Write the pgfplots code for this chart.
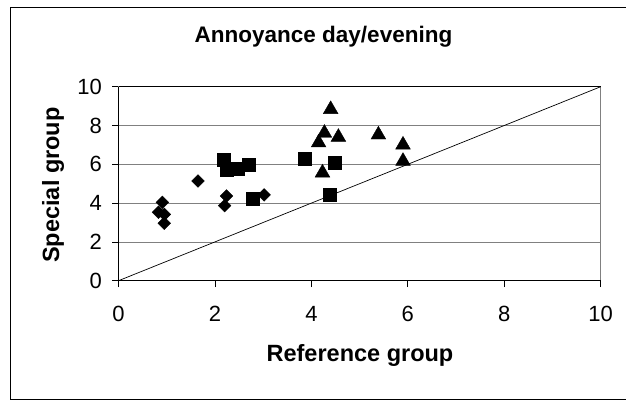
\documentclass[border=0pt]{standalone}
\usepackage{fontspec}
\setmainfont{Liberation Sans}
\usepackage{pgfplots}
\pgfplotsset{compat=1.18}

\definecolor{gridgray}{HTML}{808080}

\begin{document}
\begin{tikzpicture}[x=1bp,y=1bp]
  \useasboundingbox (0,0) rectangle (626,401);
  % chart frame (right edge runs off the picture)
  \draw[black, line width=0.9bp] (10.5,2) rectangle (640,394);

  \node[anchor=base, font=\fontsize{22.5bp}{26bp}\selectfont\bfseries] at (323.5,358.7) {Annoyance day/evening};
  \node[anchor=base, font=\fontsize{23.5bp}{27bp}\selectfont\bfseries] at (360,39.3) {Reference group};
  \node[anchor=base, rotate=90, font=\fontsize{23.5bp}{27bp}\selectfont\bfseries] at (59,216) {Special group};

  \begin{axis}[
      at={(118.5bp,120.3bp)}, anchor=south west,
      scale only axis, width=482.2bp, height=194bp,
      xmin=0, xmax=10, ymin=0, ymax=10,
      xtick={0,2,...,10}, ytick={0,2,...,10},
      tick pos=left, tick align=outside,
      major tick length=6.5bp,
      tick style={black, line width=0.8bp},
      axis line style={gridgray, line width=0.8bp},
      ymajorgrids, major grid style={gridgray, line width=0.8bp},
      /pgf/number format/assume math mode=true,
      ticklabel style={font=\fontsize{22bp}{26bp}\selectfont},
      xticklabel style={anchor=north, inner sep=0pt, yshift=-19bp},
      yticklabel style={anchor=east, inner sep=0pt, xshift=-10bp},
      clip=false,
    ]
    % reference line y = x
    \addplot[black, line width=0.7bp, no marks] coordinates {(0,0) (10,10)};

    % diamonds
    \addplot[only marks, black, mark=square*, mark size=4.5bp, mark options={rotate=45}] coordinates {
      (0.91,4.04) (0.83,3.53) (0.95,3.42) (0.95,2.96)
      (1.65,5.14) (2.24,4.37) (2.20,3.87) (3.02,4.42)
    };
    % squares
    \addplot[only marks, black, mark=square*, mark size=6.5bp] coordinates {
      (2.19,6.26) (2.24,5.71) (2.47,5.79) (2.69,5.96)
      (2.78,4.21) (3.86,6.27) (4.48,6.08) (4.39,4.42)
    };
    % triangles
    \addplot[only marks, black, mark=triangle*, mark size=8.5bp, mark options={yshift=-2.1bp}] coordinates {
      (4.40,8.94) (4.27,7.72) (4.15,7.22) (4.56,7.51)
      (4.23,5.67) (5.39,7.63) (5.90,7.11) (5.90,6.27)
    };

    % black left, bottom and top borders
    \draw[black, line width=0.8bp] (axis cs:0,10) -- (axis cs:0,0) -- (axis cs:10,0);
    \draw[black, line width=0.8bp] (axis cs:0,10) -- (axis cs:10,10);
  \end{axis}
\end{tikzpicture}
\end{document}
